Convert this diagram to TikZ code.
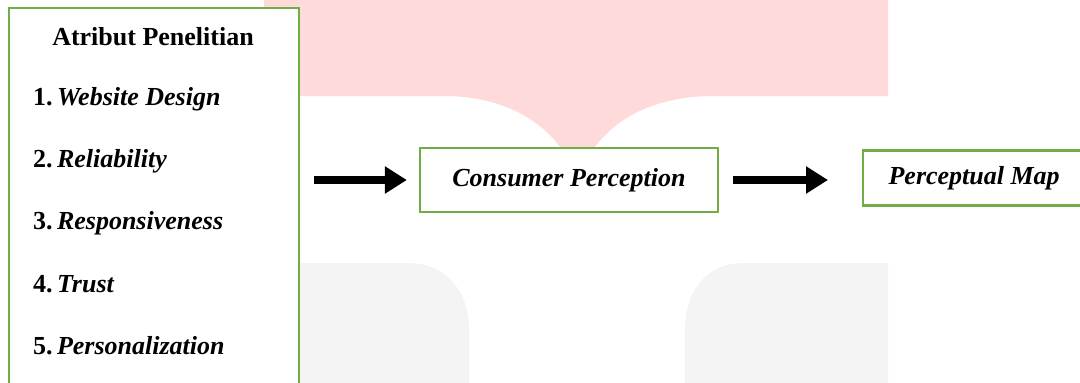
\documentclass[tikz,border=0pt]{standalone}
\usepackage{fontspec}
\setmainfont{Liberation Serif}
\usetikzlibrary{arrows.meta}
\definecolor{boxgreen}{HTML}{70AD47}
\definecolor{wmpink}{HTML}{FFDADB}
\definecolor{wmgrey}{HTML}{F4F4F4}
\tikzset{
  greenbox/.style={draw=boxgreen, line width=2.3pt, fill=white, inner sep=0pt},
  itemtext/.style={anchor=west, font=\fontsize{26}{29}\selectfont, inner sep=0pt},
  fatarrow/.style={line width=8pt, -{Triangle[length=22pt,width=26pt]}},
}
\begin{document}
\begin{tikzpicture}[x=1pt,y=-1pt]
\clip (0,0) rectangle (1080,383);
\fill[white] (0,0) rectangle (1080,383);
% watermark background
\fill[wmpink] (264,0) -- (888,0) -- (888,96) -- (708,96)
  .. controls (650,98) and (615,120) .. (594,148) -- (561,148)
  .. controls (540,120) and (505,98) .. (449,96) -- (264,96) -- cycle;
\fill[wmgrey] (264,383) -- (264,263) -- (408,263)
  .. controls (445,263) and (469,290) .. (469,330) -- (469,383) -- cycle;
\fill[wmgrey] (888,383) -- (888,263) -- (744,263)
  .. controls (707,263) and (685,290) .. (685,330) -- (685,383) -- cycle;
% left attribute box
\node[greenbox, minimum width=290pt, minimum height=400pt] (attr) at (154,208) {};
\node[font=\bfseries\fontsize{26}{29}\selectfont, inner sep=0pt] (title) at (153,37) {Atribut Penelitian};
\node[itemtext] (i1) at (33,99) {\textbf{1.}\,\textbf{\textit{Website Design}}};
\node[itemtext] (i2) at (33,161) {\textbf{2.}\,\textbf{\textit{Reliability}}};
\node[itemtext] (i3) at (33,223) {\textbf{3.}\,\textbf{\textit{Responsiveness}}};
\node[itemtext] (i4) at (33,284) {\textbf{4.}\,\textbf{\textit{Trust}}};
\node[itemtext] (i5) at (33,346) {\textbf{5.}\,\textbf{\textit{Personalization}}};
% process boxes
\node[greenbox, minimum width=298pt, minimum height=64pt,
  font=\bfseries\itshape\fontsize{26}{29}\selectfont] (cp) at (569,180) {Consumer Perception};
\node[greenbox, minimum width=222pt, minimum height=55pt, anchor=west,
  font=\bfseries\itshape\fontsize{26}{29}\selectfont] (pm) at (862,178) {Perceptual Map};
% arrows
\draw[fatarrow, shorten <=14pt, shorten >=12pt] (attr.east |- cp.west) -- (cp.west);
\draw[fatarrow, shorten <=14pt, shorten >=34pt] (cp.east) -- (cp.east -| pm.west);
\end{tikzpicture}
\end{document}
